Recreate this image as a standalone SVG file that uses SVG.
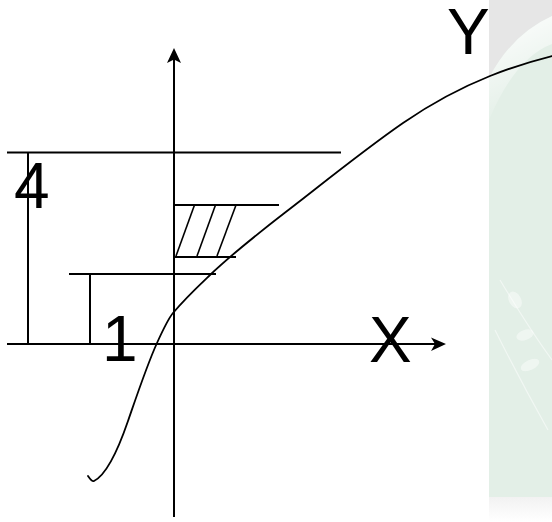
<svg xmlns="http://www.w3.org/2000/svg" width="552" height="522" viewBox="0 0 552 522">
  <defs>
    <style>
      .ln { stroke: #000; stroke-width: 2; fill: none; }
      .hatch { stroke: #000; stroke-width: 1.6; fill: none; }
      .curve { stroke: #000; stroke-width: 1.8; fill: none; stroke-linecap: round; stroke-linejoin: round; }
      .lbl { font-family: "Liberation Sans", Arial, sans-serif; font-size: 64px; fill: #000; }
      .head { fill: #000; stroke: none; }
    </style>
    <linearGradient id="band" x1="0" y1="0" x2="0.3" y2="1">
      <stop offset="0" stop-color="#ffffff" stop-opacity="1"/>
      <stop offset="1" stop-color="#ffffff" stop-opacity="0"/>
    </linearGradient>
    <linearGradient id="foot" x1="0" y1="0" x2="0" y2="1">
      <stop offset="0" stop-color="#f2f2f2"/>
      <stop offset="1" stop-color="#ffffff"/>
    </linearGradient>
  </defs>
  <rect x="0" y="0" width="552" height="522" fill="#ffffff"/>

  <!-- background panel -->
  <g id="background">
    <rect x="489" y="0" width="63" height="497" fill="#e3efe7"/>
    <rect x="489" y="497" width="63" height="25" fill="url(#foot)"/>
    <path d="M489,0 H552 V16 Q512,34 489,78 Z" fill="#e6e6e6"/>
    <path d="M489,78 Q512,34 552,16 V44 Q515,58 489,120 Z" fill="url(#band)"/>
    <g fill="#ffffff" opacity="0.45">
      <ellipse cx="515" cy="300" rx="6" ry="9" transform="rotate(-30 515 300)"/>
      <ellipse cx="525" cy="335" rx="9" ry="5" transform="rotate(-20 525 335)"/>
      <ellipse cx="530" cy="365" rx="10" ry="5" transform="rotate(-25 530 365)"/>
    </g>
    <g stroke="#ffffff" stroke-width="1.2" opacity="0.5" fill="none">
      <path d="M495,330 Q520,380 548,430"/>
      <path d="M500,280 Q530,330 552,360"/>
    </g>
  </g>

  <!-- connectors: axes, guide lines, hatch, curve -->
  <g id="connectors">
    <line class="ln" x1="7" y1="344" x2="436" y2="344"/>
    <path class="head" d="M446,344 L431,337.5 L435,344 L431,351 Z"/>
    <line class="ln" x1="174" y1="517" x2="174" y2="57"/>
    <path class="head" d="M174,48 L167,63 L174,59.5 L181,63 Z"/>

    <line class="ln" x1="7" y1="152.5" x2="341" y2="152.5"/>
    <line class="ln" x1="28" y1="152.5" x2="28" y2="344"/>
    <line class="ln" x1="69" y1="274" x2="216" y2="274"/>
    <line class="ln" x1="90" y1="274" x2="90" y2="344"/>
    <line class="ln" x1="174" y1="205" x2="279" y2="205"/>
    <line class="ln" x1="174" y1="257" x2="236" y2="257"/>

    <line class="hatch" x1="194.5" y1="205" x2="176" y2="256"/>
    <line class="hatch" x1="215.5" y1="205" x2="197" y2="256"/>
    <line class="hatch" x1="236" y1="205" x2="217" y2="256"/>

    <path class="curve" d="M88,476 C90,479 92,482 94,481 C105.3,475.3 116.7,453.9 128,421 C137.7,393 147.3,364.3 157,343 C162.3,331.3 167.7,319.4 173,313 C185.3,298.2 197.7,286.7 210,275 C240,246.5 270,224.4 300,201 C334.3,174.2 368.7,146.7 403,123 C432,103 461,87.6 490,76 C510.7,67.7 531.3,61.2 552,56"/>
  </g>

  <g id="label-4"><text class="lbl" x="14" y="208">4</text></g>
  <g id="label-1"><text class="lbl" x="102" y="361">1</text></g>
  <g id="label-X"><text class="lbl" x="369" y="362">X</text></g>
  <g id="label-Y"><text class="lbl" x="447" y="54">Y</text></g>
</svg>
